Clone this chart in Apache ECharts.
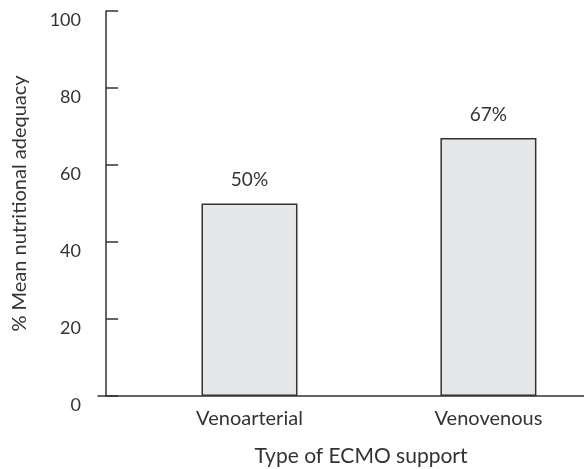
<!DOCTYPE html>
<html>
<head>
<meta charset="utf-8">
<script src="https://cdn.jsdelivr.net/npm/echarts@6/dist/echarts.min.js"></script>
<style>
  html, body { margin: 0; padding: 0; background: #fff; }
  #main { width: 584px; height: 469px; }
</style>
</head>
<body>
<div id="main"></div>
<script>
// data
const categories = ['Venoarterial', 'Venovenous']
const positions = [3, 8]          // where each category sits on the x scale
const adequacy = [50, 67]         // % mean nutritional adequacy
const yTicks = [0, 20, 40, 60, 80, 100]

const FONT = 'Lato'
const INK = '#333'

const chart = echarts.init(document.getElementById('main'))

const option = {
  animation: false,
  textStyle: { fontFamily: FONT },
  grid: { left: 98, right: 0, top: 11, bottom: 73, containLabel: false, outerBoundsMode: 'none' },
  xAxis: {
    type: 'value',
    min: -0.17,
    max: 10,
    splitLine: { show: false },
    axisTick: { show: false },
    axisLine: { lineStyle: { color: INK, width: 1.5 } },
    axisLabel: {
      customValues: positions,
      color: INK,
      fontSize: 20,
      fontFamily: FONT,
      margin: 13,
      formatter: (v) => {
        const i = positions.indexOf(v)
        return i >= 0 ? categories[i] : ''
      }
    },
    name: 'Type of ECMO support',
    nameLocation: 'middle',
    nameGap: 50,
    nameTextStyle: { color: INK, fontSize: 21, fontFamily: FONT, padding: [0, 0, 0, 40] }
  },
  yAxis: {
    type: 'value',
    min: yTicks[0],
    max: yTicks[yTicks.length - 1],
    interval: 20,
    splitLine: { show: false },
    axisLine: { show: true, onZero: true, lineStyle: { color: INK, width: 1.5 } },
    axisTick: { show: true, inside: true, length: 12, lineStyle: { color: INK, width: 1.5 } },
    axisLabel: { color: INK, fontSize: 18, fontFamily: FONT, margin: 17, verticalAlign: 'top' },
    name: '% Mean nutritional adequacy',
    nameLocation: 'middle',
    nameGap: 68,
    nameTextStyle: { color: INK, fontSize: 20, fontFamily: FONT }
  },
  series: [
    {
      type: 'bar',
      barWidth: 96,
      data: positions.map((p, i) => [p, adequacy[i]]),
      itemStyle: { color: '#e6e7e8', borderColor: INK, borderWidth: 1.5 },
      label: {
        show: true,
        position: 'top',
        distance: 14,
        color: INK,
        fontSize: 19,
        fontFamily: FONT,
        formatter: (p) => p.value[1] + '%'
      }
    }
  ]
}
chart.setOption(option)
</script>
</body>
</html>
